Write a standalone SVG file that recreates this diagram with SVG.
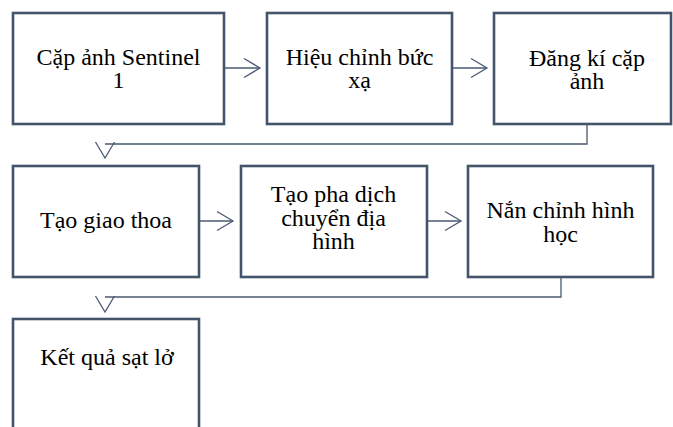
<svg xmlns="http://www.w3.org/2000/svg" width="673" height="427" viewBox="0 0 673 427">
<style>
.box{fill:#ffffff;stroke:#44546a;stroke-width:2.6}
.lbl{font-family:"Liberation Serif","Times New Roman",serif;font-size:24px;fill:#000;text-anchor:middle}
.con{fill:none;stroke:#4a5a72;stroke-width:1.3}
</style>
<defs>
<marker id="chev" markerUnits="userSpaceOnUse" viewBox="-18 -11 20 22" refX="0" refY="0" markerWidth="20" markerHeight="22" orient="auto" overflow="visible">
<path d="M-16,-9.5 L0,0 L-16,9.5" fill="none" stroke="#4a5a72" stroke-width="1.3"/>
</marker>
</defs>
<rect width="673" height="427" fill="#ffffff"/>
<g id="connectors">
<path class="con" d="M224,68 H260" marker-end="url(#chev)"/>
<path class="con" d="M452,68 H487" marker-end="url(#chev)"/>
<path class="con" d="M587,124 V144 H105"/>
<path d="M105,143 V158" fill="none" stroke="none" marker-end="url(#chev)"/>
<path class="con" d="M199,221 H233" marker-end="url(#chev)"/>
<path class="con" d="M427,221 H461" marker-end="url(#chev)"/>
<path class="con" d="M561,277 V297 H105"/>
<path d="M105,296 V312" fill="none" stroke="none" marker-end="url(#chev)"/>
</g>
<g id="n1">
<rect class="box" x="13" y="13" width="211" height="111"/>
<text class="lbl" x="118.5" y="65">Cặp ảnh Sentinel</text>
<text class="lbl" x="118.5" y="88">1</text>
</g>
<g id="n2">
<rect class="box" x="267" y="13" width="185" height="111"/>
<text class="lbl" x="359.5" y="65">Hiệu chỉnh bức</text>
<text class="lbl" x="359.5" y="88">xạ</text>
</g>
<g id="n3">
<rect class="box" x="494" y="13" width="177" height="111"/>
<text class="lbl" x="587" y="66">Đăng kí cặp</text>
<text class="lbl" x="587" y="89">ảnh</text>
</g>
<g id="n4">
<rect class="box" x="13" y="166" width="186" height="111"/>
<text class="lbl" x="106" y="228">Tạo giao thoa</text>
</g>
<g id="n5">
<rect class="box" x="241" y="166" width="186" height="111"/>
<text class="lbl" x="333.5" y="202">Tạo pha dịch</text>
<text class="lbl" x="333.5" y="225.5">chuyển địa</text>
<text class="lbl" x="333.5" y="249">hình</text>
</g>
<g id="n6">
<rect class="box" x="468" y="166" width="185" height="111"/>
<text class="lbl" x="560.5" y="217.5">Nắn chỉnh hình</text>
<text class="lbl" x="560.5" y="241.5">học</text>
</g>
<g id="n7">
<rect class="box" x="13" y="319" width="186" height="130"/>
<text class="lbl" x="107" y="365">Kết quả sạt lở</text>
</g>
</svg>
